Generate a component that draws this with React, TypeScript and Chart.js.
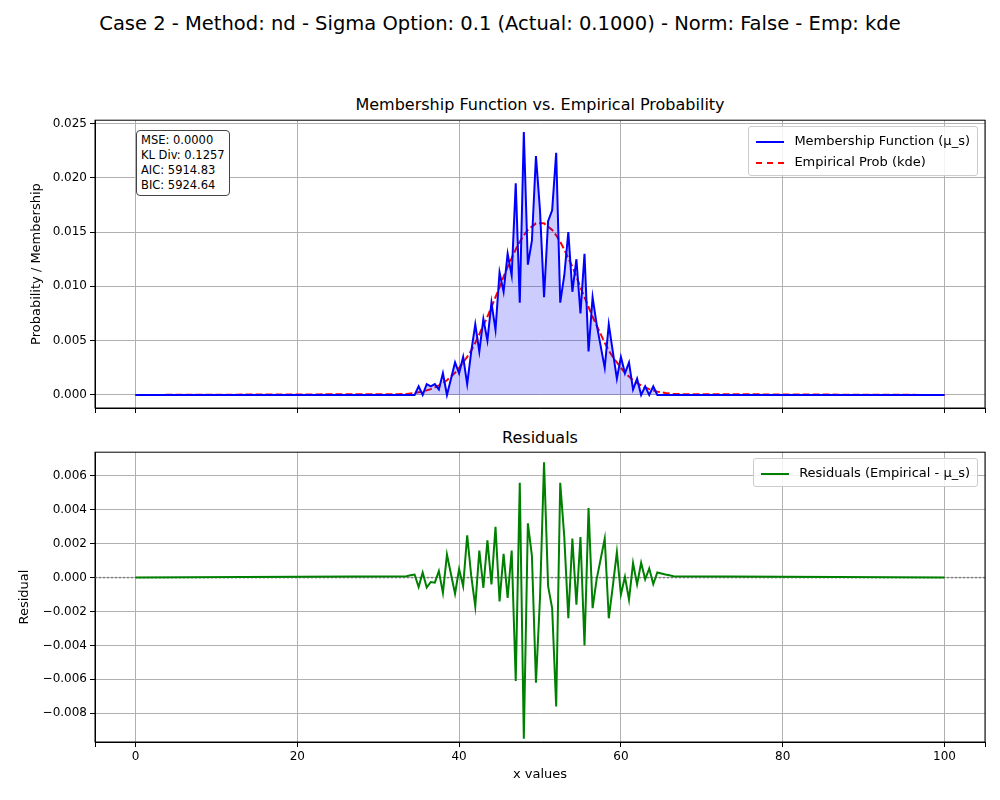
import { useEffect, useRef } from 'react';
import { Chart, registerables } from 'chart.js';

Chart.register(...registerables);

// x grid (sparse sampling of the active region, zero elsewhere)
const xValues = [0, 33.5, 34, 34.5, 35, 35.5, 36, 36.5, 37, 37.5, 38, 38.5, 39, 39.5, 40, 40.5, 41, 41.5, 42, 42.5, 43, 43.5, 44, 44.5, 45, 45.5, 46, 46.5, 47, 47.5, 48, 48.5, 49, 49.5, 50, 50.5, 51, 51.5, 52, 52.5, 53, 53.5, 54, 54.5, 55, 55.5, 56, 56.5, 57, 57.5, 58, 58.5, 59, 59.5, 60, 60.5, 61, 61.5, 62, 62.5, 63, 63.5, 64, 64.5, 65, 65.5, 66, 66.5, 100];

const membership = [0, 0, 0, 0, 0.0008, 0, 0.001, 0.0008, 0.001, 0.0005, 0.002, 0, 0.0015, 0.003, 0.002, 0.0035, 0.001, 0.004, 0.0065, 0.004, 0.007, 0.005, 0.0085, 0.006, 0.0113, 0.0095, 0.013, 0.011, 0.0195, 0.0085, 0.0242, 0.012, 0.0142, 0.022, 0.017, 0.009, 0.016, 0.017, 0.0223, 0.0085, 0.011, 0.015, 0.0095, 0.0125, 0.0075, 0.013, 0.004, 0.009, 0.0065, 0.0045, 0.0025, 0.0065, 0.004, 0.0015, 0.0035, 0.002, 0.003, 0.0005, 0.0015, 0, 0.0008, 0, 0.0008, 0, 0, 0, 0, 0, 0];

const kde = [0, 0.00008, 0.00014, 0.00018, 0.00024, 0.0003, 0.00042, 0.00054, 0.0007, 0.00088, 0.0011, 0.00136, 0.0017, 0.00205, 0.0025, 0.003, 0.0035, 0.0041, 0.0048, 0.0056, 0.0064, 0.0072, 0.0081, 0.009, 0.0099, 0.0109, 0.0118, 0.0126, 0.0134, 0.0141, 0.0147, 0.0152, 0.0155, 0.0158, 0.0158, 0.0158, 0.0155, 0.0152, 0.0147, 0.0141, 0.0134, 0.0126, 0.0118, 0.0109, 0.0099, 0.009, 0.0081, 0.0072, 0.0064, 0.0056, 0.0048, 0.0041, 0.0035, 0.003, 0.0025, 0.00205, 0.0017, 0.00136, 0.0011, 0.00088, 0.0007, 0.00054, 0.00042, 0.0003, 0.00024, 0.00018, 0.00014, 0.00008, 0];

const stats = ['MSE: 0.0000', 'KL Div: 0.1257', 'AIC: 5914.83', 'BIC: 5924.64'];

const FONT = 'DejaVu Sans';
const GRID = '#b0b0b0';

function pts(ys: number[]) {
  return xValues.map((x, i) => ({ x, y: ys[i] }));
}

// full black frame round the plot area
const frame = {
  id: 'frame',
  afterDraw(chart: any) {
    const { ctx, chartArea: a } = chart;
    ctx.save();
    ctx.strokeStyle = '#000';
    ctx.lineWidth = 1;
    ctx.strokeRect(a.left, a.top, a.right - a.left, a.bottom - a.top);
    ctx.restore();
  },
};

function xAxis(showLabels: boolean, height: number) {
  return {
    type: 'linear' as const,
    min: -5,
    max: 105,
    afterFit: (s: any) => { s.height = height; },
    grid: { color: GRID, tickLength: 5, tickColor: '#000' },
    border: { color: '#000' },
    ticks: {
      display: showLabels,
      stepSize: 20,
      color: '#000',
      font: { family: FONT, size: 12 },
      callback: (v: any) => (v >= 0 && v <= 100 && v % 20 === 0 ? String(v) : ''),
    },
    title: { display: showLabels, text: 'x values', color: '#000', font: { family: FONT, size: 13 }, padding: { top: 2 } },
  };
}

function yAxis(min: number, max: number, step: number, title: string, width: number) {
  return {
    min,
    max,
    afterFit: (s: any) => { s.width = width; },
    afterBuildTicks: (s: any) => {
      const t = [];
      for (let v = Math.ceil(min / step) * step; v <= max + 1e-9; v += step) t.push({ value: Math.round(v / step) * step });
      s.ticks = t;
    },
    grid: { color: GRID, tickLength: 5, tickColor: '#000' },
    border: { color: '#000' },
    ticks: {
      color: '#000',
      font: { family: FONT, size: 12 },
      callback: (v: any) => (v < -1e-9 ? '\u2212' + Math.abs(v).toFixed(3) : Math.abs(v).toFixed(3)),
    },
    title: { display: true, text: title, color: '#000', font: { family: FONT, size: 13 }, padding: { bottom: 2 } },
  };
}

export default function App() {
  const topRef = useRef<HTMLCanvasElement>(null);
  const botRef = useRef<HTMLCanvasElement>(null);

  useEffect(() => {
    const common = {
      responsive: false,
      animation: false as const,
      plugins: { legend: { display: false }, tooltip: { enabled: false } },
    };
    const top = new Chart(topRef.current!, {
      type: 'line',
      data: {
        datasets: [
          { data: pts(membership), borderColor: '#0000ff', borderWidth: 2, pointRadius: 0, fill: 'origin', backgroundColor: 'rgba(0,0,255,0.2)' },
          { data: pts(kde), borderColor: '#ff0000', borderWidth: 2, borderDash: [7, 3], pointRadius: 0, fill: false },
        ],
      },
      options: {
        ...common,
        layout: { padding: { top: 10, right: 15, left: 25, bottom: 0 } },
        scales: { x: xAxis(false, 12), y: yAxis(-0.0012, 0.0253, 0.005, 'Probability / Membership', 70) },
      },
      plugins: [frame],
    });
    const resid = kde.map((k, i) => k - membership[i]);
    const bot = new Chart(botRef.current!, {
      type: 'line',
      data: {
        datasets: [
          { data: pts(resid), borderColor: '#008000', borderWidth: 2, pointRadius: 0, fill: false },
          { data: [{ x: -5, y: 0 }, { x: 105, y: 0 }], borderColor: '#808080', borderWidth: 1.5, borderDash: [2, 2], pointRadius: 0 },
        ],
      },
      options: {
        ...common,
        layout: { padding: { top: 10, right: 15, left: 13, bottom: 0 } },
        scales: { x: xAxis(true, 44), y: yAxis(-0.0097, 0.0074, 0.002, 'Residual', 82) },
      },
      plugins: [frame],
    });
    return () => { top.destroy(); bot.destroy(); };
  }, []);

  const legendBox: React.CSSProperties = {
    position: 'absolute', background: 'rgba(255,255,255,0.85)', border: '1px solid #ccc', borderRadius: 3,
    fontSize: 13, padding: '3px 7px', lineHeight: '21px',
  };
  const sample = (color: string, dashed: boolean) => (
    <span style={{ display: 'inline-block', width: 28, borderTop: `2px ${dashed ? 'dashed' : 'solid'} ${color}`, verticalAlign: 'middle', marginRight: 10 }} />
  );

  return (
    <div style={{ position: 'fixed', left: 0, top: 0, width: 1000, height: 800, background: '#fff', fontFamily: FONT, color: '#000' }}>
      <div style={{ position: 'absolute', top: 12, width: 1000, textAlign: 'center', fontSize: 19.5 }}>
        Case 2 - Method: nd - Sigma Option: 0.1 (Actual: 0.1000) - Norm: False - Emp: kde
      </div>
      <div style={{ position: 'absolute', top: 95, left: 95, width: 890, textAlign: 'center', fontSize: 16 }}>Membership Function vs. Empirical Probability</div>
      <div style={{ position: 'absolute', top: 428, left: 95, width: 890, textAlign: 'center', fontSize: 16 }}>Residuals</div>
      <canvas ref={topRef} width={1000} height={310} style={{ position: 'absolute', left: 0, top: 110 }} />
      <canvas ref={botRef} width={1000} height={344} style={{ position: 'absolute', left: 0, top: 442 }} />
      <div style={{ position: 'absolute', left: 136, top: 130, border: '1px solid #444', borderRadius: 4, background: '#fff', fontSize: 11.5, padding: '2px 4px', lineHeight: '15px' }}>
        {stats.map(s => <div key={s}>{s}</div>)}
      </div>
      <div style={{ ...legendBox, right: 22, top: 126 }}>
        <div>{sample('#0000ff', false)}Membership Function (μ_s)</div>
        <div>{sample('#ff0000', true)}Empirical Prob (kde)</div>
      </div>
      <div style={{ ...legendBox, right: 22, top: 458 }}>
        <div>{sample('#008000', false)}Residuals (Empirical - μ_s)</div>
      </div>
    </div>
  );
}
